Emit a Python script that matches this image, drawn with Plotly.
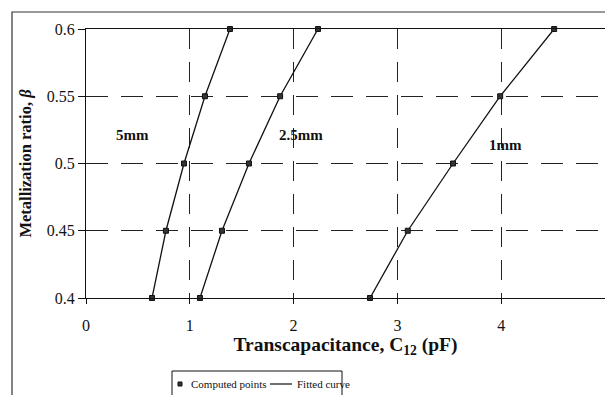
import plotly.graph_objects as go

beta = [0.4, 0.45, 0.5, 0.55, 0.6]
c12_5mm = [0.636, 0.77, 0.944, 1.146, 1.387]
c12_2p5mm = [1.098, 1.31, 1.57, 1.87, 2.235]
c12_1mm = [2.736, 3.10, 3.536, 3.99, 4.51]
series_names = ["5mm", "2.5mm", "1mm"]
label_x = [0.45, 2.07, 4.04]
label_y = [0.521, 0.521, 0.514]
x_ticks = [0, 1, 2, 3, 4, 5]
y_ticks = [0.4, 0.45, 0.5, 0.55, 0.6]
y_tick_text = ["0.4", "0.45", "0.5", "0.55", "0.6"]
legend_labels = ["Computed points", "Fitted curve"]

FONT = "Liberation Serif, Times New Roman, serif"
INK = "#111111"

# plot area geometry (pixels) used to place the hand-built legend
L, R, T, B = 86, 605, 29, 298
def px(xp):
    return (xp - L) / (R - L)
def py(yp):
    return (B - yp) / (B - T)

fig = go.Figure()
for xs in [c12_5mm, c12_2p5mm, c12_1mm]:
    fig.add_trace(go.Scatter(
        x=xs, y=beta, mode="lines+markers", showlegend=False,
        line=dict(color=INK, width=1.3),
        marker=dict(symbol="square", size=5, color="#333333",
                    line=dict(color=INK, width=1)),
        cliponaxis=False,
    ))

for name, lx, ly in zip(series_names, label_x, label_y):
    fig.add_annotation(x=lx, y=ly, text="<b>%s</b>" % name, showarrow=False,
                       font=dict(family=FONT, size=15, color=INK))

# outer frame of the chart area
fig.add_shape(type="rect", xref="paper", yref="paper",
              x0=px(12), x1=px(640), y0=py(440), y1=py(12),
              line=dict(color="#333333", width=1.2), layer="below")

# legend box (bottom, partly cut off as in the original)
fig.add_shape(type="rect", xref="paper", yref="paper",
              x0=px(172), x1=px(342), y0=py(420), y1=py(371),
              line=dict(color=INK, width=1), fillcolor="white")
fig.add_shape(type="rect", xref="paper", yref="paper",
              x0=px(178), x1=px(182), y0=py(386), y1=py(382),
              line=dict(color=INK, width=1), fillcolor="#333333")
fig.add_annotation(xref="paper", yref="paper", x=px(189), y=py(384),
                   xanchor="left", yanchor="middle", showarrow=False,
                   text=legend_labels[0], font=dict(family=FONT, size=11, color=INK))
fig.add_shape(type="line", xref="paper", yref="paper",
              x0=px(270), x1=px(292), y0=py(384), y1=py(384),
              line=dict(color=INK, width=1.2))
fig.add_annotation(xref="paper", yref="paper", x=px(295), y=py(384),
                   xanchor="left", yanchor="middle", showarrow=False,
                   text=legend_labels[1], font=dict(family=FONT, size=11, color=INK))

fig.update_layout(
    width=605, height=395,
    margin=dict(l=86, r=0, t=29, b=97),
    paper_bgcolor="white", plot_bgcolor="white",
    showlegend=False,
    font=dict(family=FONT, size=15, color=INK),
    xaxis=dict(range=[0, 5], tickvals=x_ticks, showgrid=True, griddash="20px,13px",
               gridcolor="#222222", gridwidth=1, zeroline=False,
               showline=True, linecolor=INK, linewidth=1.2, mirror=True,
               ticks="outside", ticklen=5, tickcolor=INK, ticklabelstandoff=8,
               tickfont=dict(family=FONT, size=16, color=INK),
               title=dict(text="<b>Transcapacitance, C<sub>12</sub> (pF)</b>",
                          font=dict(family=FONT, size=19.5, color=INK), standoff=3)),
    yaxis=dict(range=[0.4, 0.6], tickvals=y_ticks, ticktext=y_tick_text,
               showgrid=True, griddash="22px,13px", gridcolor="#222222", gridwidth=1,
               zeroline=False, showline=True, linecolor=INK, linewidth=1.2,
               mirror=True, ticks="outside", ticklen=7, tickcolor=INK,
               tickfont=dict(family=FONT, size=16, color=INK),
               title=dict(text="<b>Metallization ratio, <i>β</i></b>",
                          font=dict(family=FONT, size=16.5, color=INK), standoff=10)),
)

fig.write_html("out.html")
